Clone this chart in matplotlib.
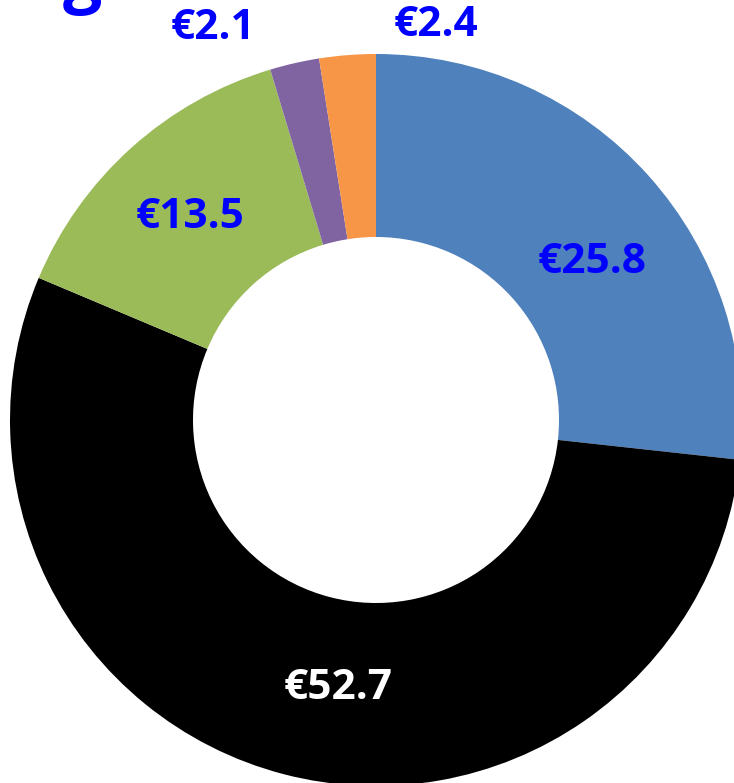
import matplotlib.pyplot as plt
import numpy as np

# Donut values (billions of euro), clockwise from 12 o'clock
values = [25.8, 52.7, 13.5, 2.1, 2.4]
labels = ["€25.8", "€52.7", "€13.5", "€2.1", "€2.4"]
colors = ["#4F81BD", "#000000", "#9BBB59", "#8064A2", "#F79646"]
label_colors = ["#0000FF", "#FFFFFF", "#0000FF", "#0000FF", "#0000FF"]

# Label placement as (radius, angle in degrees) in pie coordinates
label_pos = [(0.73, 36.0), (0.74, -98.0), (0.75, 132.5), (1.16, 112.6), (1.09, 81.4)]

W, H = 734, 783
fig = plt.figure(figsize=(W / 100, H / 100), dpi=100)

# Pie is larger than the canvas on the right/bottom, so place the axes by hand
cx, cy, r = 376, 420, 366
ax = fig.add_axes([(cx - r) / W, (H - cy - r) / H, 2 * r / W, 2 * r / H])

ax.pie(
    values,
    colors=colors,
    startangle=90,
    counterclock=False,
    radius=1.0,
    wedgeprops=dict(width=0.5, edgecolor="none", linewidth=0),
)
# pie() resets the limits, so set them afterwards
ax.set_xlim(-1, 1)
ax.set_ylim(-1, 1)
ax.set_aspect("equal")
ax.axis("off")

for text, col, (rad, ang) in zip(labels, label_colors, label_pos):
    a = np.deg2rad(ang)
    ax.text(
        rad * np.cos(a),
        rad * np.sin(a),
        text,
        ha="center",
        va="center",
        color=col,
        fontsize=30.5,
        fontweight="bold",
        family="Open Sans",
        clip_on=False,
    )

# Bottom of the cut-off title at the top edge
fig.text(82 / W, 1 + 1 / H, "g", ha="center", va="baseline",
         color="#0000FF", fontsize=50, fontweight="bold", family="Open Sans")

fig.savefig("out.png", dpi=100)
